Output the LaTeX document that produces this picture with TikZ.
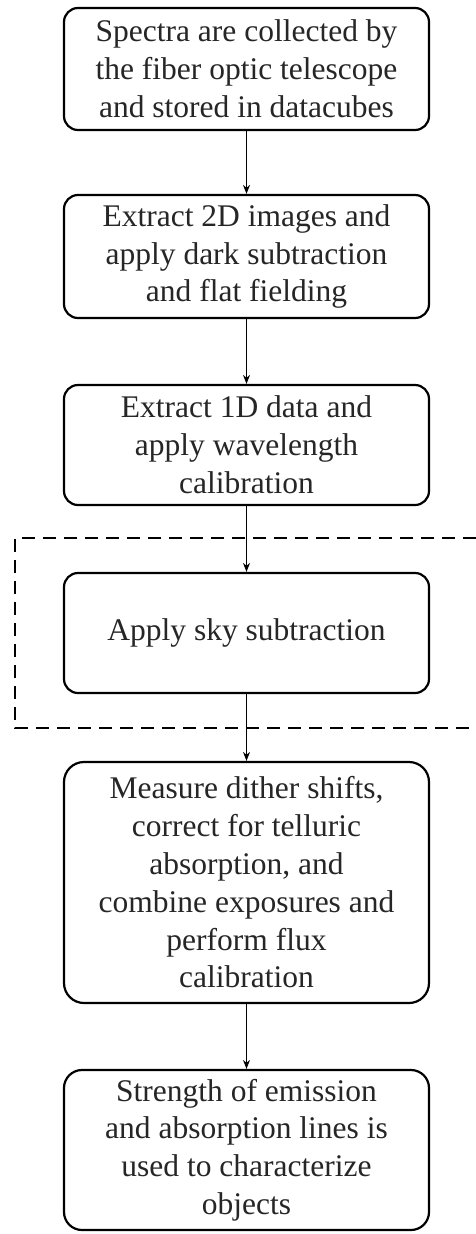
\documentclass[tikz,border=0pt]{standalone}
\usepackage{fontspec}
\setmainfont{Liberation Serif}
\usetikzlibrary{arrows.meta}
\tikzset{
  stepbox/.style={draw=black, line width=2.2pt, rounded corners=14pt, fill=white,
    minimum width=365pt, inner sep=0pt, align=center, text=black!85,
    font=\fontsize{31.5}{37.8}\selectfont},
  flow/.style={line width=1.2pt, -{Stealth[length=9pt,width=7pt]}},
  groupline/.style={line width=2.8pt, dash pattern=on 13pt off 8pt}
}
\begin{document}
\begin{tikzpicture}[x=1pt,y=-1pt]
\useasboundingbox (0,0) rectangle (475,1234);
\draw[groupline] (476,538) -- (15,538) -- (15,728) -- (476,728);
\node[stepbox, minimum height=122pt] (b1) at (246.5,69) {Spectra are collected by\\the fiber optic telescope\\and stored in datacubes};
\node[stepbox, minimum height=123pt] (b2) at (246.5,256.5) {Extract 2D images and\\apply dark subtraction\\and flat fielding};
\node[stepbox, minimum height=120pt] (b3) at (246.5,445) {Extract 1D data and\\apply wavelength\\calibration};
\node[stepbox, minimum height=120pt] (b4) at (246.5,633) {Apply sky subtraction};
\node[stepbox, minimum height=241pt, rounded corners=20pt] (b5) at (246.5,882.5) {Measure dither shifts,\\correct for telluric\\absorption, and\\combine exposures and\\perform flux\\calibration};
\node[stepbox, minimum height=160pt, rounded corners=18pt] (b6) at (246.5,1150) {Strength of emission\\and absorption lines is\\used to characterize\\objects};
\draw[flow] (b1) -- (b2);
\draw[flow] (b2) -- (b3);
\draw[flow] (b3) -- (b4);
\draw[flow] (b4) -- (b5);
\draw[flow] (b5) -- (b6);
\end{tikzpicture}
\end{document}
